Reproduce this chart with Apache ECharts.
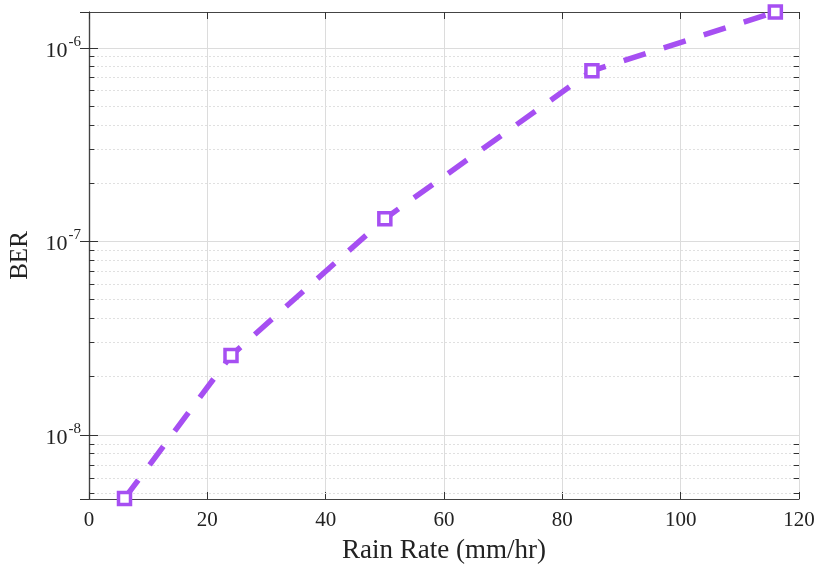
<!DOCTYPE html>
<html>
<head>
<meta charset="utf-8">
<script src="https://cdn.jsdelivr.net/npm/echarts@6/dist/echarts.min.js"></script>
<style>
  html, body { margin: 0; padding: 0; background: #fff; }
  #chart { width: 819px; height: 569px; }
</style>
</head>
<body>
<div id="chart"></div>
<script>
// rain rate (mm/hr) and BER
const rainRate = [6, 24, 50, 85, 116];
const berValues = [4.7e-9, 2.57e-8, 1.31e-7, 7.6e-7, 1.53e-6];

// axis ranges / ticks
const xMin = 0, xMax = 120, xStep = 20;
const yMin = 4.67e-9, yMax = 1.53e-6;
const minorTicks = [
  5e-9, 6e-9, 7e-9, 8e-9, 9e-9,
  2e-8, 3e-8, 4e-8, 5e-8, 6e-8, 7e-8, 8e-8, 9e-8,
  2e-7, 3e-7, 4e-7, 5e-7, 6e-7, 7e-7, 8e-7, 9e-7
];

const serif = 'Liberation Serif';
const lineColor = '#a64ff2';
const spine = '#444';

let chart = echarts.init(document.getElementById('chart'));

function expLabel(v) {
  let e = Math.log10(v);
  if (Math.abs(e - Math.round(e)) > 1e-6) return '';
  return '{b|10}{e|' + Math.round(e) + '}';
}

// minor grid (dotted, full width) and short inward ticks on both spines
let minorGrid = minorTicks.map(v => [{ coord: [xMin, v] }, { coord: [xMax, v] }]);
let minorTickSegs = [];
minorTicks.forEach(v => {
  minorTickSegs.push([{ coord: [xMin, v] }, { coord: [xMin + 0.9, v] }]);
  minorTickSegs.push([{ coord: [xMax - 0.9, v] }, { coord: [xMax, v] }]);
});

let option = {
  animation: false,
  grid: { left: 88, right: 20, top: 12, bottom: 70, containLabel: false },
  xAxis: [{
    type: 'value',
    min: xMin, max: xMax, interval: xStep,
    name: 'Rain Rate (mm/hr)',
    nameLocation: 'middle',
    nameGap: 38,
    nameTextStyle: { fontFamily: serif, fontSize: 27, color: '#222' },
    axisLine: { show: true, lineStyle: { color: spine, width: 1.2 } },
    axisTick: { show: true, inside: true, length: 7, lineStyle: { color: '#333' } },
    axisLabel: { fontFamily: serif, fontSize: 21, color: '#222', margin: 11 },
    splitLine: { show: true, lineStyle: { color: '#dcdcdc', width: 1 } }
  }, {
    type: 'value', position: 'top',
    min: xMin, max: xMax, interval: xStep,
    axisLine: { show: true, lineStyle: { color: spine, width: 1.2 } },
    axisTick: { show: true, inside: true, length: 7, lineStyle: { color: '#333' } },
    axisLabel: { show: false },
    splitLine: { show: false }
  }],
  yAxis: [{
    type: 'log', logBase: 10,
    min: yMin, max: yMax,
    name: 'BER',
    nameLocation: 'middle',
    nameGap: 56,
    nameTextStyle: { fontFamily: serif, fontSize: 25, color: '#222' },
    axisLine: { show: true, lineStyle: { color: spine, width: 1.2 } },
    axisTick: { show: true, inside: true, length: 9, lineStyle: { color: '#333' } },
    axisLabel: {
      margin: 8,
      formatter: expLabel,
      showMinLabel: false, showMaxLabel: false,
      rich: {
        b: { fontFamily: serif, fontSize: 22, color: '#222', padding: [6, 0, 0, 0] },
        e: { fontFamily: serif, fontSize: 15, color: '#222', padding: [0, 0, 12, 1] }
      }
    },
    splitLine: { show: true, lineStyle: { color: '#dcdcdc', width: 1 } }
  }, {
    type: 'log', logBase: 10, position: 'right',
    min: yMin, max: yMax,
    axisLine: { show: true, lineStyle: { color: spine, width: 1.2 } },
    axisTick: { show: true, inside: true, length: 9, lineStyle: { color: '#333' } },
    axisLabel: { show: false },
    splitLine: { show: false }
  }],
  series: [{
    type: 'line',
    data: rainRate.map((x, i) => [x, berValues[i]]),
    clip: false,
    symbol: 'rect',
    symbolSize: 12,
    lineStyle: { color: lineColor, width: 5.5, type: [23, 19], cap: 'butt' },
    itemStyle: { color: '#fff', borderColor: lineColor, borderWidth: 3.5 },
    z: 5,
    markLine: {
      silent: true, symbol: 'none', label: { show: false }, animation: false,
      data: minorGrid,
      lineStyle: { color: '#e0e0e0', width: 1, type: [2, 2] },
      z: 1
    }
  }, {
    type: 'line', data: [], silent: true,
    markLine: {
      silent: true, symbol: 'none', label: { show: false }, animation: false,
      data: minorTickSegs,
      lineStyle: { color: '#333', width: 1, type: 'solid' }
    }
  }]
};

chart.setOption(option);
</script>
</body>
</html>
